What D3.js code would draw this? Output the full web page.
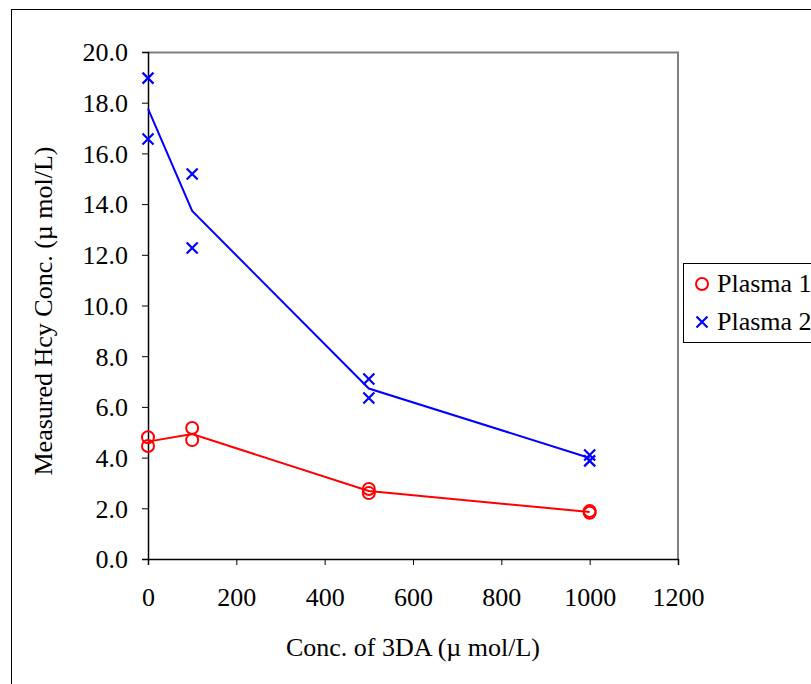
<!DOCTYPE html>
<html>
<head>
<meta charset="utf-8">
<script src="https://cdn.jsdelivr.net/npm/d3@7"></script>
<style>
  body { margin: 0; background: #fff; }
  svg text { font-family: "Liberation Serif", "Times New Roman", serif; fill: #000; }
</style>
</head>
<body>
<div id="chart"></div>
<script>
// concentrations of 3DA (x)
var conc = [0, 100, 500, 1000];
// two replicate measurements per concentration
var plasma1A = [4.80, 5.17, 2.76, 1.89];
var plasma1B = [4.46, 4.69, 2.60, 1.82];
var plasma2A = [18.97, 15.19, 7.10, 4.10];
var plasma2B = [16.57, 12.27, 6.35, 3.87];
var xTicks = [0, 200, 400, 600, 800, 1000, 1200];
var yTicks = [0, 2, 4, 6, 8, 10, 12, 14, 16, 18, 20];

var width = 811, height = 684;
var margin = { top: 52, left: 148, right: 133, bottom: 125 };
var w = width - margin.left - margin.right,
    h = height - margin.top - margin.bottom;
var fontSize = "26px";

var svg = d3.select("#chart").append("svg")
  .attr("width", width)
  .attr("height", height);

// outer chart frame
svg.append("rect")
  .attr("x", 11.5).attr("y", 9.5)
  .attr("width", 820).attr("height", 700)
  .attr("fill", "none").attr("stroke", "#000").attr("stroke-width", 1);

var g = svg.append("g")
  .attr("transform", "translate(" + margin.left + "," + margin.top + ")");

var x = d3.scaleLinear().domain([0, 1200]).range([0, w]);
var y = d3.scaleLinear().domain([0, 20]).range([h, 0]);

// plot area border (top/right grey)
g.append("path")
  .attr("d", "M0,0.5H" + w + "V" + h)
  .attr("fill", "none").attr("stroke", "#808080").attr("stroke-width", 2);

var xAxis = g.append("g")
  .attr("transform", "translate(0," + h + ")")
  .call(d3.axisBottom(x).tickValues(xTicks).tickSize(6).tickPadding(15).tickFormat(d3.format("d")));
var yAxis = g.append("g")
  .call(d3.axisLeft(y).tickValues(yTicks).tickSize(6).tickPadding(14).tickFormat(d3.format(".1f")));

[xAxis, yAxis].forEach(function (a) {
  a.attr("font-family", null).attr("font-size", null);
  a.select(".domain").attr("stroke", "#000").attr("stroke-width", 1.5);
  a.selectAll(".tick line").attr("stroke", "#000");
  a.selectAll("text").style("font-size", fontSize);
});
xAxis.selectAll("text").attr("dy", "1em");
yAxis.selectAll("text").attr("dy", "0.34em");

var series = [
  { name: "Plasma 1", color: "#ff0000", shape: "circle", reps: [plasma1A, plasma1B] },
  { name: "Plasma 2", color: "#0000ff", shape: "cross", reps: [plasma2A, plasma2B] }
];

var line = d3.line()
  .x(function (d) { return x(d[0]); })
  .y(function (d) { return y(d[1]); });

series.forEach(function (s) {
  var means = conc.map(function (c, i) {
    return [c, d3.mean(s.reps, function (r) { return r[i]; })];
  });
  g.append("path")
    .datum(means)
    .attr("d", line)
    .attr("fill", "none")
    .attr("stroke", s.color)
    .attr("stroke-width", 2);

  var pts = [];
  s.reps.forEach(function (r) {
    conc.forEach(function (c, i) { pts.push([c, r[i]]); });
  });
  drawMarkers(g, pts.map(function (p) { return [x(p[0]), y(p[1])]; }), s);
});

function drawMarkers(parent, coords, s) {
  if (s.shape == "circle") {
    parent.selectAll(null).data(coords).enter()
      .append("circle")
      .attr("cx", function (d) { return d[0]; })
      .attr("cy", function (d) { return d[1]; })
      .attr("r", 6)
      .attr("fill", "none")
      .attr("stroke", s.color)
      .attr("stroke-width", 2);
  } else {
    parent.selectAll(null).data(coords).enter()
      .append("path")
      .attr("d", function (d) {
        var k = 5.5;
        return "M" + (d[0] - k) + "," + (d[1] - k) + "L" + (d[0] + k) + "," + (d[1] + k) +
          "M" + (d[0] - k) + "," + (d[1] + k) + "L" + (d[0] + k) + "," + (d[1] - k);
      })
      .attr("stroke", s.color)
      .attr("stroke-width", 2.2);
  }
}

// axis titles
svg.append("text")
  .attr("x", 413)
  .attr("y", 656)
  .attr("text-anchor", "middle")
  .style("font-size", fontSize)
  .text("Conc. of 3DA (\u00b5 mol/L)");

svg.append("text")
  .attr("transform", "translate(52,311) rotate(-90)")
  .attr("text-anchor", "middle")
  .style("font-size", fontSize)
  .text("Measured Hcy Conc. (\u00b5 mol/L)");

// legend
var legend = svg.append("g").attr("transform", "translate(683,263)");
legend.append("rect")
  .attr("x", 0.5).attr("y", 0.5)
  .attr("width", 160).attr("height", 79)
  .attr("fill", "#fff").attr("stroke", "#000").attr("stroke-width", 1);

series.forEach(function (s, i) {
  var cy = 21 + i * 38;
  drawMarkers(legend, [[19, cy]], s);
  legend.append("text")
    .attr("x", 34)
    .attr("y", cy + 8)
    .style("font-size", fontSize)
    .text(s.name);
});
</script>
</body>
</html>
